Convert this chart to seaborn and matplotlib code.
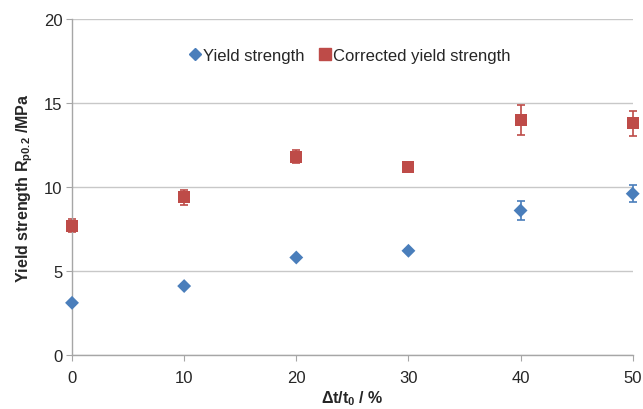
import matplotlib
matplotlib.use("Agg")
import matplotlib.pyplot as plt
import numpy as np
import pandas as pd
import seaborn as sns

# Strain ratio and measured yield strengths
strain = [0, 10, 20, 30, 40, 50]
yield_strength = [3.1, 4.1, 5.8, 6.2, 8.6, 9.6]
yield_err = [0.1, 0.1, 0.1, 0.1, 0.55, 0.5]
corrected_strength = [7.7, 9.4, 11.8, 11.2, 14.0, 13.8]
corrected_err = [0.4, 0.45, 0.4, 0.3, 0.9, 0.75]

series_names = ["Yield strength", "Corrected yield strength"]
colors = {"Yield strength": "#4a7ebb", "Corrected yield strength": "#be4b48"}
markers = {"Yield strength": "D", "Corrected yield strength": "s"}
marker_sizes = {"Yield strength": 50, "Corrected yield strength": 74}

df = pd.concat([
    pd.DataFrame({"x": strain, "y": yield_strength, "err": yield_err, "series": series_names[0]}),
    pd.DataFrame({"x": strain, "y": corrected_strength, "err": corrected_err, "series": series_names[1]}),
], ignore_index=True)

sns.set_style("white")
plt.rcParams["font.family"] = ["Liberation Sans", "DejaVu Sans"]
plt.rcParams["mathtext.fontset"] = "custom"
plt.rcParams["mathtext.rm"] = "Liberation Sans"
plt.rcParams["mathtext.bf"] = "Liberation Sans:bold"

fig = plt.figure(figsize=(6.43, 4.10), dpi=100)
ax = fig.add_axes([0.112, 0.132, 0.872, 0.819])

for name in series_names:
    sub = df[df["series"] == name]
    ax.errorbar(sub["x"], sub["y"], yerr=sub["err"], fmt="none",
                ecolor=colors[name], elinewidth=1.2, capsize=3, capthick=1.2,
                zorder=2, clip_on=False)

sns.scatterplot(data=df, x="x", y="y", hue="series", style="series", size="series",
                palette=colors, markers=markers, sizes=marker_sizes,
                hue_order=series_names, style_order=series_names,
                size_order=series_names, edgecolor="none",
                ax=ax, zorder=3, clip_on=False, legend=False)

ax.set_xlim(0, 50)
ax.set_ylim(0, 20)
ax.set_xticks([0, 10, 20, 30, 40, 50])
ax.set_yticks([0, 5, 10, 15, 20])
ax.yaxis.grid(True, color="#c8c8c8", linewidth=1.0)
ax.xaxis.grid(False)
ax.set_axisbelow(True)
for side in ["top", "right"]:
    ax.spines[side].set_visible(False)
for side in ["left", "bottom"]:
    ax.spines[side].set_color("#a6a6a6")
    ax.spines[side].set_linewidth(1.0)
ax.tick_params(axis="x", which="both", bottom=True, length=4, color="#a6a6a6",
               labelsize=12, pad=7)
ax.tick_params(axis="y", which="both", left=True, length=4, color="#a6a6a6",
               labelsize=12, pad=3)

ax.set_xlabel(r"$\mathbf{\Delta t/t_0}$ / %", fontsize=11.5, fontweight="bold", labelpad=2)
ax.set_ylabel(r"Yield strength R$_\mathbf{p0.2}$ /MPa", fontsize=11.5,
              fontweight="bold", labelpad=6)

handles = [
    plt.Line2D([], [], linestyle="none", marker=markers[n], color=colors[n],
               markersize=6 if n == series_names[0] else 8)
    for n in series_names
]
ax.legend(handles, series_names, loc="upper center", bbox_to_anchor=(0.495, 0.96),
          ncol=2, frameon=False, fontsize=12, handletextpad=0.1,
          columnspacing=0.8, handlelength=0.8)

fig.savefig("out.png", dpi=100)
